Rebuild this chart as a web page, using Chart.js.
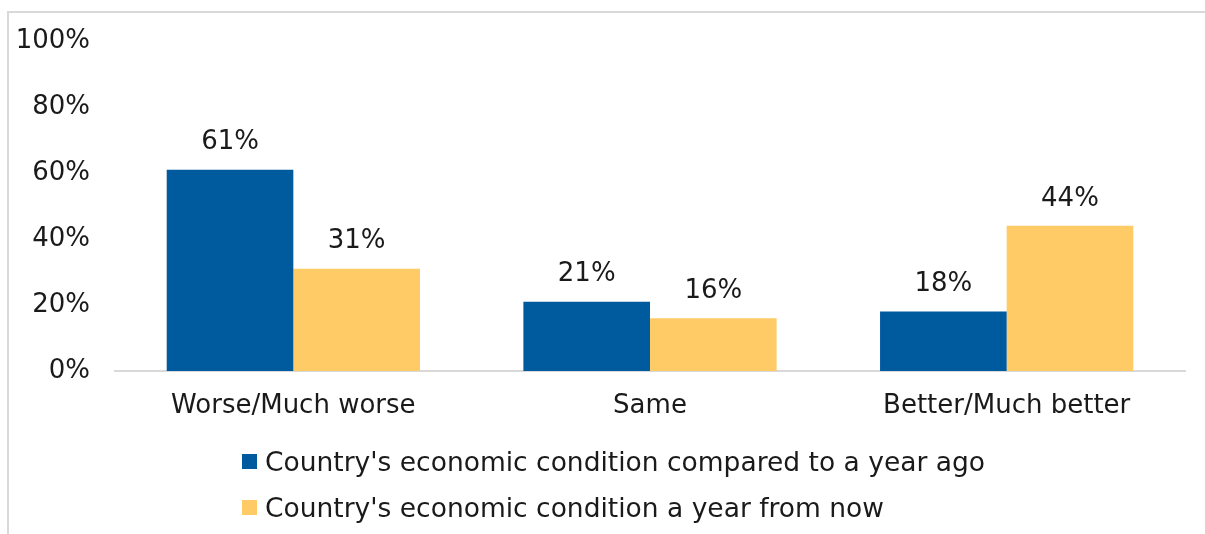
<!DOCTYPE html>
<html>
<head>
<meta charset="utf-8">
<script src="https://cdn.jsdelivr.net/npm/chart.js@4"></script>
<style>
  html, body { margin: 0; padding: 0; background: #fff; }
  #wrap { position: relative; width: 1205px; height: 534px; overflow: hidden; }
  #frame { position: absolute; left: 7px; top: 11px; width: 1198px; height: 523px;
           border-top: 2px solid #d9d9d9; border-left: 2px solid #d9d9d9; }
  #legend { position: absolute; left: 242px; top: 438px; font-family: "DejaVu Sans", sans-serif;
            font-size: 26.5px; color: #1a1a1a; }
  .item { display: flex; align-items: center; height: 46px; }
  .box { width: 15px; height: 15px; margin-right: 8px; }
</style>
</head>
<body>
<div id="wrap">
  <div id="frame"></div>
  <canvas id="chart" width="1205" height="534"></canvas>
  <div id="legend"></div>
</div>
<script>
const categories = ["Worse/Much worse", "Same", "Better/Much better"];
const seriesNames = [
  "Country's economic condition compared to a year ago",
  "Country's economic condition a year from now"
];
const pastYear = [61, 21, 18];
const nextYear = [31, 16, 44];
const yTicks = [0, 20, 40, 60, 80, 100];
const colors = ["#005A9E", "#FFCB66"];

const FONT = "DejaVu Sans";

// draws the value above each bar
const barLabels = {
  id: "barLabels",
  afterDatasetsDraw(chart) {
    const ctx = chart.ctx;
    ctx.save();
    ctx.font = "26px " + FONT;
    ctx.fillStyle = "#1a1a1a";
    ctx.textAlign = "center";
    ctx.textBaseline = "bottom";
    chart.data.datasets.forEach((ds, i) => {
      chart.getDatasetMeta(i).data.forEach((bar, j) => {
        ctx.fillText(ds.data[j] + "%", bar.x, bar.y - 14);
      });
    });
    ctx.restore();
  }
};

const chart = new Chart(document.getElementById("chart"), {
  type: "bar",
  data: {
    labels: categories,
    datasets: [
      { label: seriesNames[0], data: pastYear, backgroundColor: colors[0] },
      { label: seriesNames[1], data: nextYear, backgroundColor: colors[1] }
    ]
  },
  options: {
    responsive: false,
    animation: false,
    layout: { padding: { top: 41, right: 20, bottom: 103, left: 0 } },
    categoryPercentage: 0.71,
    barPercentage: 1,
    plugins: { legend: { display: false }, tooltip: { enabled: false } },
    scales: {
      x: {
        grid: { display: false, drawTicks: false },
        border: { display: true, color: "#d9d9d9", width: 2 },
        ticks: { color: "#1a1a1a", font: { family: FONT, size: 26 }, padding: 20 },
        afterFit(scale) { scale.height = 60; }
      },
      y: {
        min: 0, max: 100,
        grid: { display: false, drawTicks: false },
        border: { display: false },
        afterBuildTicks(scale) { scale.ticks = yTicks.map(v => ({ value: v })); },
        ticks: { color: "#1a1a1a", font: { family: FONT, size: 26 }, padding: 25,
                 callback: v => v + "%" },
        afterFit(scale) { scale.width = 115; }
      }
    }
  },
  plugins: [barLabels]
});

const legend = document.getElementById("legend");
chart.data.datasets.forEach(ds => {
  const row = document.createElement("div");
  row.className = "item";
  row.innerHTML = '<span class="box" style="background:' + ds.backgroundColor + '"></span><span></span>';
  row.lastChild.textContent = ds.label;
  legend.appendChild(row);
});
</script>
</body>
</html>
